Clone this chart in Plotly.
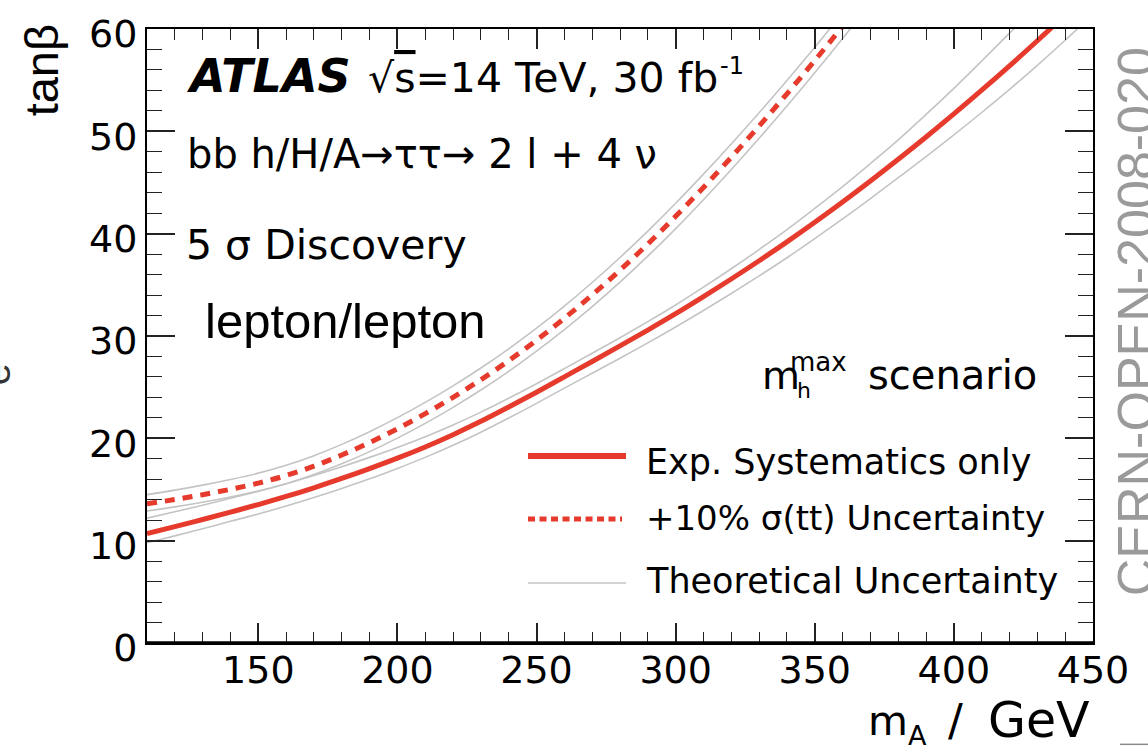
import plotly.graph_objects as go

# ---------------- data ----------------
mA_solid = [110, 120, 130, 140, 150, 160, 170, 180, 190, 200, 210, 220, 230, 240, 250,
            260, 270, 280, 290, 300, 310, 320, 330, 340, 350, 360, 370, 380, 390, 400,
            410, 420, 430, 440, 450]
exp_syst = [10.70, 11.37, 12.07, 12.79, 13.53, 14.32, 15.17, 16.08, 17.04, 18.06, 19.16, 20.36,
            21.66, 23.06, 24.51, 26.01, 27.51, 29.03, 30.58, 32.18, 33.85, 35.57, 37.35, 39.20,
            41.12, 43.10, 45.15, 47.27, 49.45, 51.70, 54.02, 56.40, 58.85, 61.40, 64.05]
exp_theo_up = [12.20, 12.82, 13.47, 14.14, 14.83, 15.57, 16.37, 17.23, 18.14, 19.11, 20.16, 21.31,
               22.56, 23.91, 25.33, 26.81, 28.31, 29.83, 31.40, 33.03, 34.77, 36.57, 38.45, 40.40,
               42.47, 44.60, 46.85, 49.17, 51.65, 54.20, 56.87, 59.60, 62.25, 65.00, 67.85]
exp_theo_lo = [9.80, 10.47, 11.17, 11.89, 12.61, 13.38, 14.21, 15.10, 16.04, 17.06, 18.14, 19.32,
               20.60, 21.98, 23.42, 24.91, 26.36, 27.83, 29.33, 30.88, 32.49, 34.15, 35.87, 37.65,
               39.52, 41.44, 43.43, 45.47, 47.53, 49.65, 51.84, 54.10, 56.45, 58.90, 61.45]

mA_dash = [110, 120, 130, 140, 150, 160, 170, 180, 190, 200, 210, 220, 230, 240, 250,
           260, 270, 280, 290, 300, 310, 320, 330, 340, 350, 360, 370]
ttbar_unc = [13.60, 14.02, 14.49, 15.02, 15.62, 16.37, 17.29, 18.37, 19.59, 20.94, 22.41, 24.01,
             25.73, 27.59, 29.59, 31.73, 34.01, 36.43, 38.99, 41.69, 44.52, 47.47, 50.52, 53.67,
             56.92, 60.27, 63.72]
ttbar_theo_up = [14.50, 14.94, 15.43, 15.98, 16.60, 17.37, 18.31, 19.41, 20.65, 22.02, 23.51, 25.13,
                 26.87, 28.75, 30.77, 32.93, 35.23, 37.67, 40.25, 42.97, 45.82, 48.77, 51.82, 54.97,
                 58.22, 61.57, 65.02]
ttbar_theo_lo = [12.90, 13.30, 13.75, 14.26, 14.84, 15.57, 16.46, 17.51, 18.70, 20.02, 21.46, 23.03,
                 24.72, 26.55, 28.52, 30.63, 32.88, 35.27, 37.80, 40.49, 43.32, 46.27, 49.32, 52.47,
                 55.72, 59.07, 62.52]

legend_labels = ["Exp. Systematics only", "+10% \u03c3(tt) Uncertainty", "Theoretical Uncertainty"]
x_range = [110, 450]
y_range = [0, 60]

# ---------------- layout helpers (pixel -> paper) ----------------
W, H = 1148, 752
L, R, T, B = 147, 1093, 19, 643
def px(x):
    return (x - L) / (R - L)
def py(y):
    return (B - y) / (B - T)

RED = "#e63b2c"
GREY = "#c4c4c4"
FONT = "DejaVu Sans"

fig = go.Figure()
for xs, ys in [(mA_solid, exp_theo_up), (mA_solid, exp_theo_lo),
               (mA_dash, ttbar_theo_up), (mA_dash, ttbar_theo_lo)]:
    fig.add_trace(go.Scatter(x=xs, y=ys, mode="lines", showlegend=False, hoverinfo="skip",
                             line=dict(color=GREY, width=1.6, shape="spline", smoothing=1)))
fig.add_trace(go.Scatter(x=mA_solid, y=exp_syst, mode="lines", showlegend=False,
                         line=dict(color=RED, width=5, shape="spline", smoothing=1)))
fig.add_trace(go.Scatter(x=mA_dash, y=ttbar_unc, mode="lines", showlegend=False,
                         line=dict(color=RED, width=5, dash="10px,8px", shape="spline", smoothing=1)))

axis_common = dict(showline=True, linecolor="black", linewidth=2, mirror="ticks",
                   ticks="inside", tickcolor="#222", tickwidth=1.6, showgrid=False, zeroline=False,
                   ticklabeloverflow="allow",
                   tickfont=dict(family=FONT, size=38, color="black"))
fig.update_xaxes(range=x_range, tick0=0, dtick=50, ticklen=20, ticklabelstandoff=-8,
                 minor=dict(dtick=10, ticklen=11, ticks="inside", tickcolor="#222", tickwidth=1.4),
                 **axis_common)
fig.update_yaxes(range=y_range, tick0=0, dtick=10, ticklen=28, ticklabelshift=5,
                 minor=dict(dtick=2, ticklen=15, ticks="inside", tickcolor="#222", tickwidth=1.4),
                 **axis_common)

shapes = [dict(type="line", xref="paper", yref="paper", x0=0, x1=1, y0=0, y1=0,
               line=dict(color="black", width=3.5))]
# legend sample lines
leg_y = [453, 517, 582]
shapes.append(dict(type="line", xref="paper", yref="paper", x0=px(528), x1=px(626),
                   y0=py(leg_y[0]), y1=py(leg_y[0]), line=dict(color=RED, width=6)))
shapes.append(dict(type="line", xref="paper", yref="paper", x0=px(528), x1=px(622),
                   y0=py(leg_y[1]), y1=py(leg_y[1]), line=dict(color=RED, width=5, dash="7px,4.5px")))
shapes.append(dict(type="line", xref="paper", yref="paper", x0=px(528), x1=px(626),
                   y0=py(leg_y[2]), y1=py(leg_y[2]), line=dict(color=GREY, width=1.6)))
# small page fragment at the lower right corner
shapes.append(dict(type="line", xref="paper", yref="paper", x0=px(1120), x1=px(1148),
                   y0=py(746), y1=py(746), line=dict(color="#8a8a8a", width=1.5)))

ann = []
def text(t, x, y, size, anchor="left", family=FONT, color="black", angle=0, yanchor="middle"):
    ann.append(dict(text=t, x=px(x), y=py(y), xref="paper", yref="paper", showarrow=False,
                    xanchor=anchor, yanchor=yanchor, textangle=angle,
                    font=dict(family=family, size=size, color=color)))

text("<b><i>ATLAS</i></b>", 185, 67, 46)
text("\u221a<span style='text-decoration:overline'>s</span>=14 TeV, 30 fb", 366, 69, 41)
text("-1", 718, 57, 24)
text("bb h/H/A\u2192\u03c4\u03c4\u2192 2 l + 4 \u03bd", 185, 146, 40)
text("5 \u03c3 Discovery", 184, 239, 41)
text("lepton/lepton", 203, 316, 49, family="Liberation Sans")
text("m", 760, 371, 39)
text("max", 788, 357, 26)
text("h", 795, 386, 22)
text("scenario", 866, 371, 40)
leg_text_y = [459, 516, 580]
for lab, yy in zip(legend_labels, leg_text_y):
    text(lab, 644, yy, 35 if yy != 516 else 34)
# axis titles
text("m", 866, 722, 41)
text("A", 906, 737, 27)
text("/", 946, 722, 44)
text("GeV", 1092, 722, 49, anchor="right")
text("tan\u03b2", 41, 61, 47, family="Liberation Sans", angle=-90, anchor="center")
# cut-off text fragment at the left page edge
text("e", -4, 370, 40, family="Liberation Sans", color="#333", angle=-90, anchor="center")
# side watermark
text("CERN-OPEN-2008-020", 1136, 317, 52, family="Liberation Sans", color="#9a9a9a",
     angle=-90, anchor="center")

fig.update_layout(width=W, height=H, autosize=False,
                  margin=dict(l=L, r=W - R, t=T, b=H - B),
                  paper_bgcolor="white", plot_bgcolor="white",
                  shapes=shapes, annotations=ann, showlegend=False)
fig.write_html("out.html")
